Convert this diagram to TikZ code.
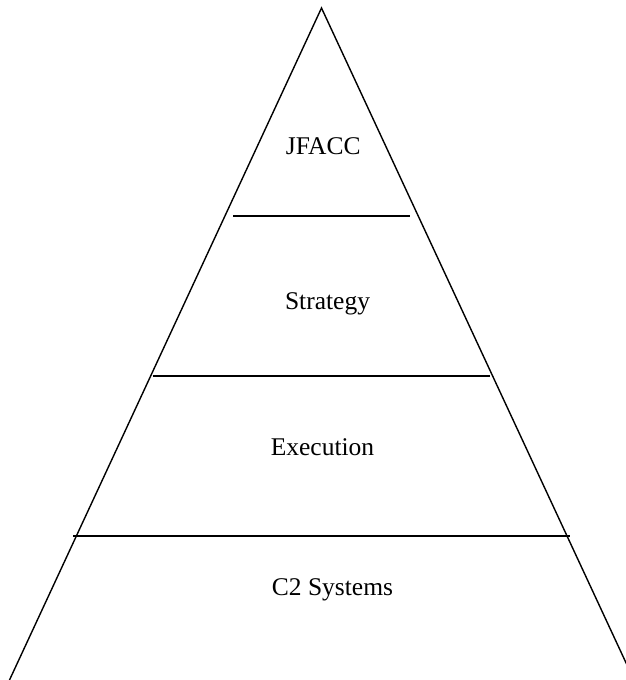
\documentclass[tikz,border=0pt]{standalone}
\usepackage{fontspec}
\setmainfont{Liberation Serif}
\begin{document}
\begin{tikzpicture}[x=1pt,y=-1pt,
  edge/.style={line width=1.4pt,black},
  label/.style={anchor=base,inner sep=0pt,font=\fontsize{25.5}{30}\selectfont}]
\useasboundingbox (0,0) rectangle (626,680);
\clip (0,0) rectangle (626,680);
\coordinate (apex) at (321.5,8);
\coordinate (bl) at (9.5,680);
\coordinate (br) at (634,680);
\draw[edge,line join=miter] (bl) -- (apex) -- (br);
\coordinate (l1a) at (233,216); \coordinate (l1b) at (410,216);
\coordinate (l2a) at (152.5,376); \coordinate (l2b) at (490,376);
\coordinate (l3a) at (73,536); \coordinate (l3b) at (570,536);
\draw[edge] (l1a) -- (l1b);
\draw[edge] (l2a) -- (l2b);
\draw[edge] (l3a) -- (l3b);
\node[label] (jfacc) at (323.3,154) {JFACC};
\node[label] (strategy) at (327.5,309) {Strategy};
\node[label] (execution) at (322.5,455) {Execution};
\node[label] (c2) at (332.5,595) {C2 Systems};
\end{tikzpicture}
\end{document}
